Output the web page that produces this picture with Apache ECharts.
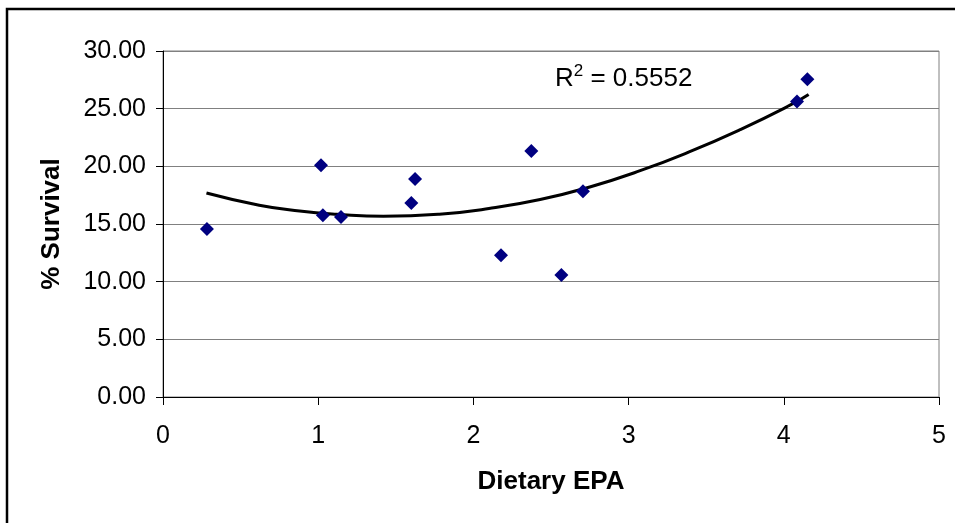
<!DOCTYPE html>
<html>
<head>
<meta charset="utf-8">
<script src="https://cdn.jsdelivr.net/npm/echarts@6/dist/echarts.min.js"></script>
<style>
html,body{margin:0;padding:0;background:#fff;}
#chart{width:955px;height:523px;}
</style>
</head>
<body>
<div id="chart"></div>
<script>
// Observed data (Dietary EPA vs % Survival)
var epa = [0.283, 1.018, 1.030, 1.147, 1.600, 1.624, 2.178, 2.373, 2.567, 2.706, 4.085, 4.152];
var survival = [14.57, 20.10, 15.76, 15.60, 16.83, 18.90, 12.29, 21.34, 10.58, 17.84, 25.62, 27.55];

// Polynomial trendline, values
var trendX = [0.28, 0.62, 0.88, 1.12, 1.42, 1.78, 2.10, 2.43, 2.75, 3.07, 3.39, 3.72, 4.04, 4.16];
var trendY = [17.69, 16.63, 16.13, 15.85, 15.67, 15.85, 16.34, 17.12, 18.21, 19.60, 21.25, 23.19, 25.30, 26.23];

var xTicks = [0, 1, 2, 3, 4, 5];
var yTicks = [0, 5, 10, 15, 20, 25, 30];
var r2Text = '0.5552';

var font = 'Liberation Sans, Arial, sans-serif';
var chart = echarts.init(document.getElementById('chart'), null, {renderer: 'canvas'});

var points = epa.map(function (x, i) { return [x, survival[i]]; });
var trend = trendX.map(function (x, i) { return [x, trendY[i]]; });

chart.setOption({
  animation: false,
  backgroundColor: '#ffffff',
  grid: {
    left: 163, right: 16, top: 51, bottom: 126,
    show: true, borderColor: '#808080', borderWidth: 1, backgroundColor: 'transparent'
  },
  xAxis: {
    type: 'value',
    min: xTicks[0], max: xTicks[xTicks.length - 1], interval: 1,
    name: 'Dietary EPA',
    nameLocation: 'middle',
    nameGap: 72,
    nameTextStyle: {fontFamily: font, fontSize: 26, fontWeight: 'bold', color: '#000'},
    axisLine: {show: true, onZero: false, lineStyle: {color: '#000', width: 1}},
    axisTick: {show: true, length: 8, inside: false, lineStyle: {color: '#000'}},
    axisLabel: {fontFamily: font, fontSize: 25, color: '#000', margin: 27},
    splitLine: {show: false}
  },
  yAxis: {
    type: 'value',
    min: yTicks[0], max: yTicks[yTicks.length - 1], interval: 5,
    name: '% Survival',
    nameLocation: 'middle',
    nameRotate: 90,
    nameGap: 98,
    nameTextStyle: {fontFamily: font, fontSize: 26, fontWeight: 'bold', color: '#000'},
    axisLine: {show: true, onZero: false, lineStyle: {color: '#000', width: 1}},
    axisTick: {show: true, length: 7, inside: false, lineStyle: {color: '#000'}},
    axisLabel: {
      fontFamily: font, fontSize: 25, color: '#000', margin: 17,
      formatter: function (v) { return v.toFixed(2); }
    },
    splitLine: {show: true, lineStyle: {color: '#808080', width: 1}}
  },
  series: [
    {
      type: 'line',
      data: trend,
      smooth: true,
      symbol: 'none',
      lineStyle: {color: '#000', width: 3},
      z: 2
    },
    {
      type: 'scatter',
      data: points,
      symbol: 'diamond',
      symbolSize: 14,
      itemStyle: {color: '#000080', opacity: 1},
      z: 3
    }
  ],
  graphic: [
    {
      type: 'rect',
      shape: {x: 7, y: 9, width: 1000, height: 600},
      style: {fill: 'none', stroke: '#000', lineWidth: 2.5},
      silent: true
    },
    {
      type: 'text',
      left: 555,
      top: 63,
      style: {
        text: 'R{sup|2} = ' + r2Text,
        fontFamily: font,
        fontSize: 26,
        fill: '#000',
        rich: {
          sup: {fontSize: 17, verticalAlign: 'top', padding: [0, 0, 14, 0], fontFamily: font, fill: '#000'}
        }
      }
    }
  ]
});
</script>
</body>
</html>
